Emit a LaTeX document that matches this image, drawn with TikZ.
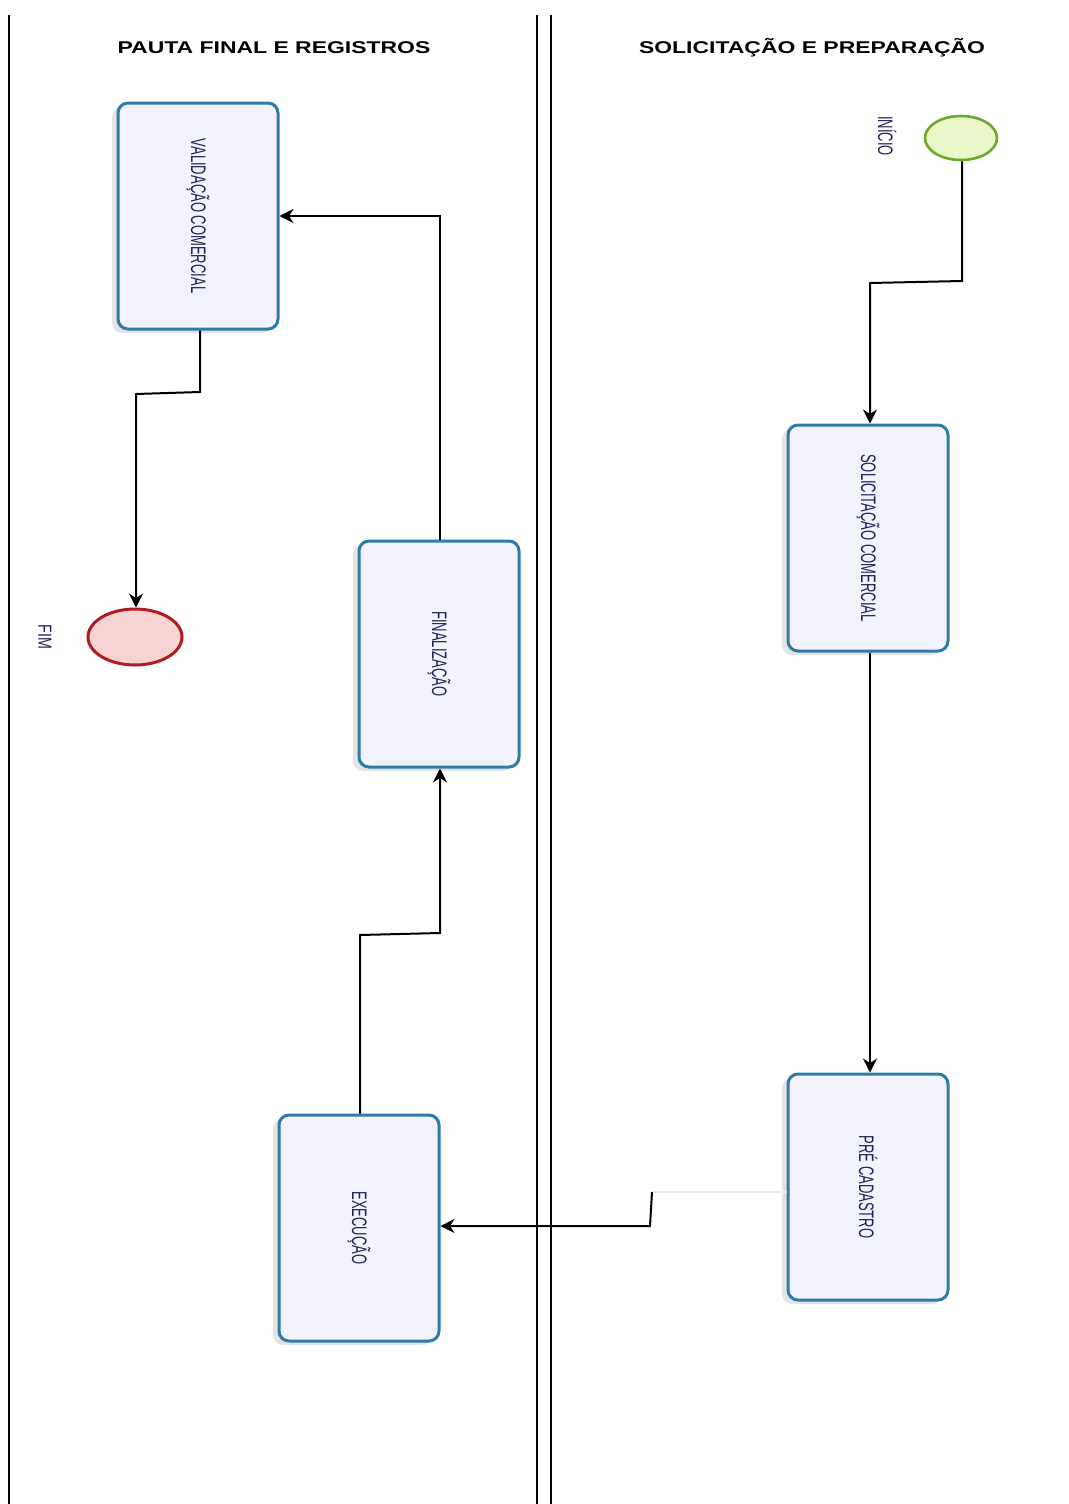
\documentclass[tikz,border=0pt]{standalone}
\usepackage{fontspec}
\setmainfont{Liberation Sans}
\usetikzlibrary{arrows.meta,shadows,shapes.geometric}
\definecolor{boxborder}{HTML}{2F7BAA}
\definecolor{boxfill}{HTML}{F2F3FC}
\definecolor{txtnavy}{HTML}{23205A}
\definecolor{startborder}{HTML}{6AAA2A}
\definecolor{startfill}{HTML}{EAF7C8}
\definecolor{endborder}{HTML}{B01C24}
\definecolor{endfill}{HTML}{F8D3D3}
\newcommand{\boxlabel}[1]{\rotatebox{-90}{\scalebox{0.62}[1]{\fontsize{21}{21}\selectfont #1}}}
\newcommand{\lanetitle}[1]{\scalebox{1.35}[1]{\fontsize{17}{17}\selectfont\bfseries #1}}
\begin{document}
\begin{tikzpicture}[x=1pt,y=-1pt,
  taskbox/.style={draw=boxborder, line width=3pt, fill=boxfill, rounded corners=10pt,
    minimum width=160pt, minimum height=226pt, inner sep=0pt, text=txtnavy,
    general shadow={fill=black!30, opacity=0.35, shadow xshift=-6pt, shadow yshift=-4pt}},
  startev/.style={ellipse, draw=startborder, line width=2.6pt, fill=startfill,
    minimum width=72pt, minimum height=44pt, inner sep=0pt},
  endev/.style={ellipse, draw=endborder, line width=3pt, fill=endfill,
    minimum width=94pt, minimum height=56pt, inner sep=0pt},
  evlabel/.style={text=txtnavy, inner sep=0pt},
  flow/.style={draw=black, line width=2pt, -{Stealth[length=14pt,width=14pt]}},
  faint/.style={draw=black!8, line width=1.4pt},
  lane/.style={draw=black, line width=1.5pt},
  title/.style={text=black, inner sep=0pt}
]
\useasboundingbox[fill=white] (0,0) rectangle (1068,1504);

% lane separators
\draw[lane] (9,15) -- (9,1504);
\draw[lane, line width=1.1pt] (537,15) -- (537,1504);
\draw[lane, line width=2pt] (551,15) -- (551,1504);

% lane titles
\node[title] (t1) at (274,48) {\lanetitle{PAUTA FINAL E REGISTROS}};
\node[title] (t2) at (812,48) {\lanetitle{SOLICITAÇÃO E PREPARAÇÃO}};

% tasks
\node[taskbox] (val) at (198,216) {\boxlabel{VALIDAÇÃO COMERCIAL}};
\node[taskbox] (sol) at (868,538) {\boxlabel{SOLICITAÇÃO COMERCIAL}};
\node[taskbox] (fin) at (439,654) {\boxlabel{FINALIZAÇÃO}};
\node[taskbox] (exe) at (359,1228) {\boxlabel{EXECUÇÃO}};
\node[taskbox] (pre) at (868,1187) {\boxlabel{PRÉ CADASTRO}};

% events
\node[startev] (ini) at (961,138) {};
\node[evlabel] (inil) at (887,136) {\boxlabel{INÍCIO}};
\node[endev] (fim) at (135,637) {};
\node[evlabel] (fiml) at (45,637) {\rotatebox{-90}{\scalebox{0.75}[1]{\fontsize{19}{19}\selectfont FIM}}};

% connectors
\coordinate (c1) at (962,281);
\coordinate (c2) at (870,283);
\draw[flow] (ini.south -| c1) -- (c1) -- (c2) -- (c2 |- sol.north);

\draw[flow] (sol.south -| c2) -- (c2 |- pre.north);

\coordinate (p1) at (652,1192);
\coordinate (p2) at (650,1226);
\draw[faint] (pre.west |- p1) -- (p1);
\draw[flow] (p1) -- (p2) -- (exe.east |- p2);

\coordinate (e1) at (360,935);
\coordinate (e2) at (440,933);
\draw[flow] (exe.north -| e1) -- (e1) -- (e2) -- (e2 |- fin.south);

\coordinate (f1) at (440,216);
\draw[flow] (fin.north -| f1) -- (f1) -- (val.east |- f1);

\coordinate (v1) at (200,392);
\coordinate (v2) at (136,394);
\draw[flow] (val.south -| v1) -- (v1) -- (v2) -- (v2 |- fim.north);
\end{tikzpicture}
\end{document}
